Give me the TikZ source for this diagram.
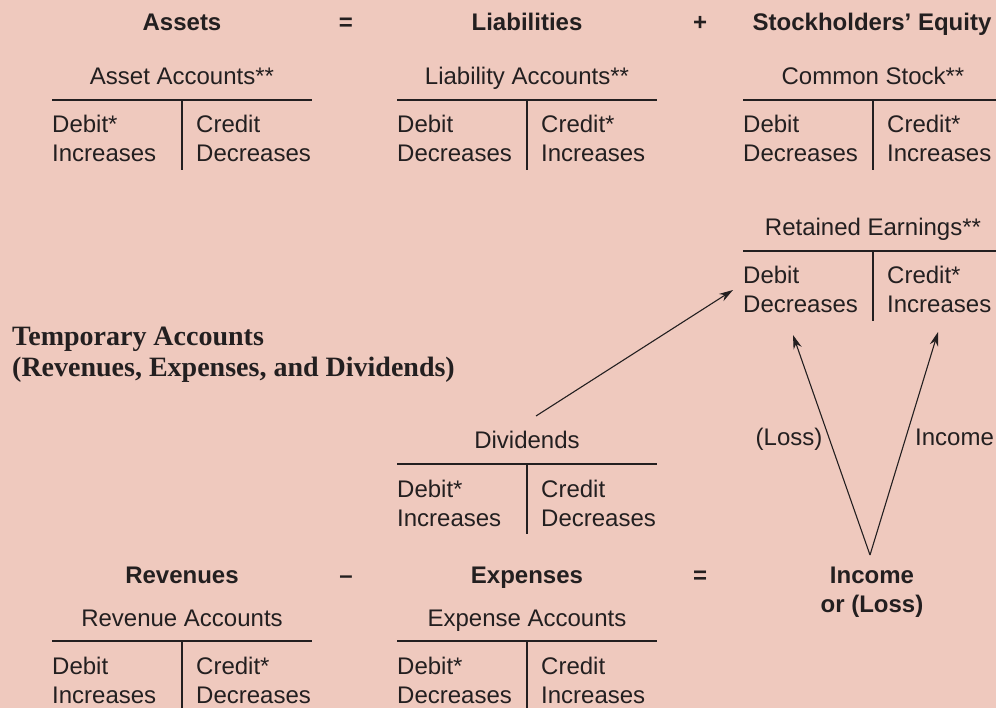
\documentclass[tikz,border=0pt]{standalone}
\usepackage{fontspec}
\setmainfont{Liberation Sans}
\newfontfamily\tempserif{Liberation Serif}
\usetikzlibrary{arrows.meta}
\definecolor{bgpink}{HTML}{EFC9BE}
\definecolor{ink}{HTML}{231F20}
\tikzset{
  txt/.style={inner sep=0pt, text=ink, font=\fontsize{24}{29}\selectfont},
  hdr/.style={inner sep=0pt, text=ink, font=\fontsize{24}{29}\selectfont\bfseries, anchor=base},
  serifhdr/.style={inner sep=0pt, text=ink, font=\fontsize{28}{31}\selectfont\tempserif\bfseries, anchor=base west},
  rule/.style={draw=ink, line width=1.4pt},
  flow/.style={draw=ink, line width=1.1pt, -{Stealth[length=14pt,width=8.5pt]}},
}
% #1 name, #2 centre x, #3 rule y, #4 title, #5 #6 debit lines, #7 #8 credit lines
\newcommand{\tacct}[8]{%
  \node[txt, anchor=base] (#1title) at ({#2},{#3-15}) {#4};
  \coordinate (#1L) at ({#2-130},{#3});
  \coordinate (#1R) at ({#2+130},{#3});
  \coordinate (#1M) at ({#2},{#3});
  \coordinate (#1B) at ({#2},{#3+70});
  \draw[rule] (#1L) -- (#1R);
  \draw[rule] (#1M) -- (#1B);
  \node[txt, anchor=base west] (#1da) at ({#2-130},{#3+33}) {#5};
  \node[txt, anchor=base west] (#1db) at ({#2-130},{#3+62}) {#6};
  \node[txt, anchor=base west] (#1ca) at ({#2+14},{#3+33}) {#7};
  \node[txt, anchor=base west] (#1cb) at ({#2+14},{#3+62}) {#8};
}
\begin{document}
\begin{tikzpicture}[x=1pt,y=-1pt]
\fill[bgpink] (0,0) rectangle (996,708);
\useasboundingbox (0,0) rectangle (996,708);

% top equation
\node[hdr] (assets) at (182,31) {Assets};
\node[hdr] (eq1) at (346,31) {=};
\node[hdr] (liab) at (527,31) {Liabilities};
\node[hdr] (plus) at (700,31) {+};
\node[hdr] (equity) at (872,31) {Stockholders’ Equity};

\tacct{asset}{182}{100}{Asset Accounts**}{Debit*}{Increases}{Credit}{Decreases}
\tacct{liab}{527}{100}{Liability Accounts**}{Debit}{Decreases}{Credit*}{Increases}
\tacct{cs}{873}{100}{Common Stock**}{Debit}{Decreases}{Credit*}{Increases}
\tacct{re}{873}{251}{Retained Earnings**}{Debit}{Decreases}{Credit*}{Increases}

% temporary accounts heading
\node[serifhdr] (temp1) at (12,346) {Temporary Accounts};
\node[serifhdr] (temp2) at (12,377) {(Revenues, Expenses, and Dividends)};

\tacct{div}{527}{464}{Dividends}{Debit*}{Increases}{Credit}{Decreases}

% bottom equation
\node[hdr] (rev) at (182,583) {Revenues};
\node[hdr] (minus) at (346,583) {–};
\node[hdr] (exp) at (527,583) {Expenses};
\node[hdr] (eq2) at (700,583) {=};
\node[hdr] (inc1) at (872,583) {Income};
\node[hdr] (inc2) at (872,612) {or (Loss)};

\tacct{rev}{182}{641}{Revenue Accounts}{Debit}{Increases}{Credit*}{Decreases}
\tacct{exp}{527}{641}{Expense Accounts}{Debit*}{Decreases}{Credit}{Increases}

% arrows
\coordinate (divstart) at (536,416);
\coordinate (redebit) at (733,290);
\coordinate (apex) at (870,555);
\coordinate (losstip) at (793,335);
\coordinate (inctip) at (938,332);
\draw[flow] (divstart) -- (redebit);
\draw[flow] (apex) -- (losstip);
\draw[flow] (apex) -- (inctip);

\node[txt, anchor=base] (losslbl) at (789,445) {(Loss)};
\node[txt, anchor=base west] (inclbl) at (915,445) {Income};
\end{tikzpicture}
\end{document}
